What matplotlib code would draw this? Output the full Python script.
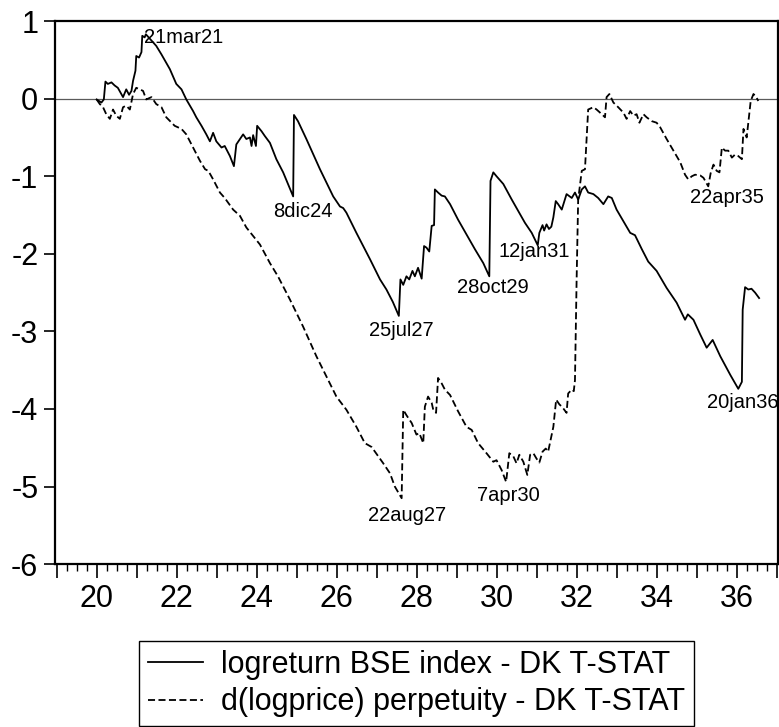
import matplotlib
matplotlib.use('Agg')
import matplotlib.pyplot as plt
from matplotlib.ticker import MultipleLocator, FuncFormatter

# logreturn BSE index - DK T-STAT (x in years, 20 = 1920)
bse_x = [20.00, 20.12, 20.18, 20.22, 20.28, 20.37, 20.45, 20.53, 20.66, 20.74,
         20.81, 20.87, 20.91, 20.97, 20.99, 21.06, 21.12, 21.14, 21.20, 21.23,
         21.37, 21.49, 21.62, 21.83, 21.99, 22.12, 22.24, 22.41, 22.49, 22.62,
         22.74, 22.83, 22.91, 22.99, 23.12, 23.20, 23.33, 23.43, 23.49, 23.58,
         23.66, 23.74, 23.83, 23.87, 23.91, 23.98, 24.01, 24.12, 24.20, 24.33,
         24.49, 24.66, 24.78, 24.91, 24.93, 25.03, 25.24, 25.58, 25.91, 26.08,
         26.16, 26.24, 26.49, 26.83, 27.08, 27.24, 27.40, 27.55, 27.59, 27.66,
         27.74, 27.81, 27.89, 27.95, 28.03, 28.12, 28.18, 28.24, 28.31, 28.37,
         28.43, 28.45, 28.53, 28.62, 28.70, 28.83, 29.03, 29.24, 29.45, 29.66,
         29.81, 29.84, 29.91, 29.99, 30.16, 30.37, 30.58, 30.70, 30.87, 31.02,
         31.06, 31.14, 31.18, 31.24, 31.30, 31.36, 31.41, 31.47, 31.53, 31.62,
         31.74, 31.87, 31.95, 32.03, 32.12, 32.20, 32.28, 32.41, 32.53, 32.66,
         32.78, 32.87, 32.99, 33.16, 33.33, 33.45, 33.62, 33.78, 33.99, 34.24,
         34.49, 34.70, 34.77, 34.91, 35.08, 35.24, 35.39, 35.58, 35.83, 36.03,
         36.12, 36.14, 36.20, 36.28, 36.36, 36.45, 36.55]
bse_y = [-0.01, -0.05, -0.01, 0.22, 0.19, 0.21, 0.17, 0.14, 0.02, 0.12,
         0.05, 0.10, 0.23, 0.36, 0.55, 0.53, 0.60, 0.81, 0.79, 0.83,
         0.75, 0.68, 0.57, 0.38, 0.19, 0.12, -0.01, -0.16, -0.24, -0.35,
         -0.46, -0.55, -0.44, -0.55, -0.63, -0.61, -0.74, -0.87, -0.59, -0.52,
         -0.46, -0.52, -0.50, -0.61, -0.47, -0.61, -0.35, -0.42, -0.48, -0.57,
         -0.78, -0.95, -1.10, -1.26, -0.21, -0.29, -0.52, -0.91, -1.26, -1.39,
         -1.41, -1.47, -1.73, -2.07, -2.33, -2.46, -2.62, -2.80, -2.33, -2.40,
         -2.29, -2.33, -2.22, -2.29, -2.18, -2.32, -1.90, -1.92, -1.97, -1.64,
         -1.63, -1.17, -1.21, -1.25, -1.26, -1.36, -1.56, -1.75, -1.94, -2.12,
         -2.29, -1.06, -0.95, -1.00, -1.10, -1.30, -1.49, -1.60, -1.73, -1.89,
         -1.73, -1.63, -1.70, -1.62, -1.68, -1.65, -1.53, -1.32, -1.36, -1.43,
         -1.23, -1.28, -1.21, -1.30, -1.17, -1.13, -1.21, -1.23, -1.28, -1.36,
         -1.26, -1.28, -1.43, -1.58, -1.73, -1.76, -1.94, -2.10, -2.22, -2.44,
         -2.63, -2.85, -2.78, -2.85, -3.04, -3.21, -3.11, -3.32, -3.56, -3.74,
         -3.65, -2.72, -2.43, -2.46, -2.45, -2.50, -2.57]

# d(logprice) perpetuity - DK T-STAT
perp_x = [20.00, 20.08, 20.16, 20.24, 20.33, 20.41, 20.49, 20.58, 20.66, 20.74,
          20.83, 20.91, 20.99, 21.08, 21.16, 21.24, 21.37, 21.49, 21.62, 21.74,
          21.95, 22.12, 22.24, 22.41, 22.58, 22.71, 22.79, 22.91, 23.08, 23.20,
          23.41, 23.58, 23.74, 24.08, 24.33, 24.53, 24.83, 25.16, 25.49, 25.74,
          25.99, 26.24, 26.49, 26.70, 26.87, 27.16, 27.33, 27.45, 27.62, 27.66,
          27.74, 27.87, 27.99, 28.06, 28.16, 28.20, 28.28, 28.37, 28.41, 28.48,
          28.53, 28.62, 28.70, 28.83, 29.03, 29.24, 29.37, 29.53, 29.74, 29.91,
          29.99, 30.12, 30.23, 30.31, 30.41, 30.49, 30.56, 30.66, 30.76, 30.83,
          30.91, 30.99, 31.06, 31.14, 31.22, 31.28, 31.34, 31.41, 31.48, 31.56,
          31.64, 31.74, 31.78, 31.87, 31.92, 31.95, 31.99, 32.03, 32.08, 32.12,
          32.20, 32.28, 32.41, 32.49, 32.62, 32.70, 32.74, 32.81, 32.91, 33.03,
          33.16, 33.24, 33.33, 33.41, 33.49, 33.56, 33.66, 33.74, 33.87, 33.99,
          34.08, 34.24, 34.41, 34.58, 34.70, 34.78, 34.87, 34.95, 35.08, 35.16,
          35.28, 35.34, 35.41, 35.49, 35.56, 35.62, 35.70, 35.78, 35.87, 35.95,
          36.03, 36.12, 36.16, 36.24, 36.30, 36.34, 36.41, 36.49, 36.53]
perp_y = [-0.01, -0.07, -0.11, -0.20, -0.26, -0.14, -0.22, -0.26, -0.11, -0.09,
          -0.14, 0.06, 0.14, 0.12, 0.10, -0.01, 0.02, -0.07, -0.11, -0.24,
          -0.35, -0.39, -0.46, -0.63, -0.80, -0.91, -0.93, -1.04, -1.21, -1.28,
          -1.43, -1.51, -1.66, -1.88, -2.12, -2.29, -2.59, -2.94, -3.32, -3.58,
          -3.84, -4.01, -4.23, -4.44, -4.49, -4.70, -4.83, -5.00, -5.15, -4.01,
          -4.08, -4.18, -4.33, -4.31, -4.44, -3.97, -3.84, -3.92, -4.01, -4.05,
          -3.60, -3.67, -3.75, -3.82, -4.03, -4.23, -4.27, -4.44, -4.57, -4.68,
          -4.66, -4.79, -4.94, -4.57, -4.61, -4.70, -4.59, -4.68, -4.85, -4.59,
          -4.57, -4.64, -4.69, -4.55, -4.51, -4.55, -4.40, -4.23, -3.88, -3.94,
          -3.98, -4.05, -3.80, -3.75, -3.77, -3.63, -2.37, -1.30, -1.09, -0.93,
          -0.91, -0.14, -0.11, -0.14, -0.20, -0.24, 0.02, 0.06, -0.05, -0.11,
          -0.18, -0.26, -0.16, -0.22, -0.20, -0.31, -0.20, -0.24, -0.29, -0.31,
          -0.37, -0.52, -0.67, -0.82, -0.98, -1.04, -1.00, -0.98, -0.99, -1.02,
          -1.13, -0.96, -0.85, -0.93, -0.95, -0.63, -0.67, -0.67, -0.76, -0.72,
          -0.74, -0.78, -0.39, -0.50, -0.22, -0.03, 0.06, 0.01, -0.03]

# date labels at the turning points
note_text = ['21mar21', '8dic24', '25jul27', '28oct29', '12jan31',
             '22aug27', '7apr30', '22apr35', '20jan36']
note_x = [22.17, 25.15, 27.60, 29.89, 30.93, 27.76, 30.28, 35.74, 36.15]
note_y = [0.72, -1.52, -3.06, -2.51, -2.04, -5.44, -5.18, -1.35, -3.99]

legend_labels = ['logreturn BSE index - DK T-STAT',
                 'd(logprice) perpetuity - DK T-STAT']


def year_label(v, pos):
    n = int(round(v))
    if n % 2 == 0:
        return str(n)
    return ''


def main():
    plt.rcParams['font.family'] = ['Liberation Sans', 'DejaVu Sans']
    plt.rcParams['axes.unicode_minus'] = False

    fig = plt.figure(figsize=(7.79, 7.27), dpi=100)
    ax = fig.add_axes([0.0706, 0.224, 0.928, 0.747])

    ax.axhline(0, color='#5a5a5a', linewidth=0.9, zorder=1)
    ax.plot(bse_x, bse_y, color='black', linewidth=1.3, label=legend_labels[0], zorder=3)
    ax.plot(perp_x, perp_y, color='black', linewidth=1.3,
            linestyle=(0, (3.9, 1.9)), label=legend_labels[1], zorder=2)

    for t, x, y in zip(note_text, note_x, note_y):
        ax.text(x, y, t, ha='center', va='baseline', fontsize=14.5, zorder=4)

    ax.set_xlim(18.96, 37.02)
    ax.set_ylim(-6, 1)

    ax.xaxis.set_major_locator(MultipleLocator(1))
    ax.xaxis.set_minor_locator(MultipleLocator(0.25))
    ax.xaxis.set_major_formatter(FuncFormatter(year_label))
    ax.yaxis.set_major_locator(MultipleLocator(1))

    ax.tick_params(axis='x', which='major', direction='out', length=10, width=1.2,
                   labelsize=22, pad=4, top=False)
    ax.tick_params(axis='x', which='minor', direction='out', length=5, width=1.0, top=False)
    ax.tick_params(axis='y', which='major', direction='out', length=8, width=1.2,
                   labelsize=22, pad=4, right=False)

    for s in ax.spines.values():
        s.set_linewidth(1.6)

    leg = fig.legend(loc='center', bbox_to_anchor=(0.5347, 0.0598), fontsize=22,
                     handlelength=1.8, handletextpad=0.6, labelspacing=0.25,
                     borderpad=0.28, fancybox=False, edgecolor='black', framealpha=1)
    leg.get_frame().set_linewidth(1.0)

    fig.savefig('out.png', dpi=100)


main()
